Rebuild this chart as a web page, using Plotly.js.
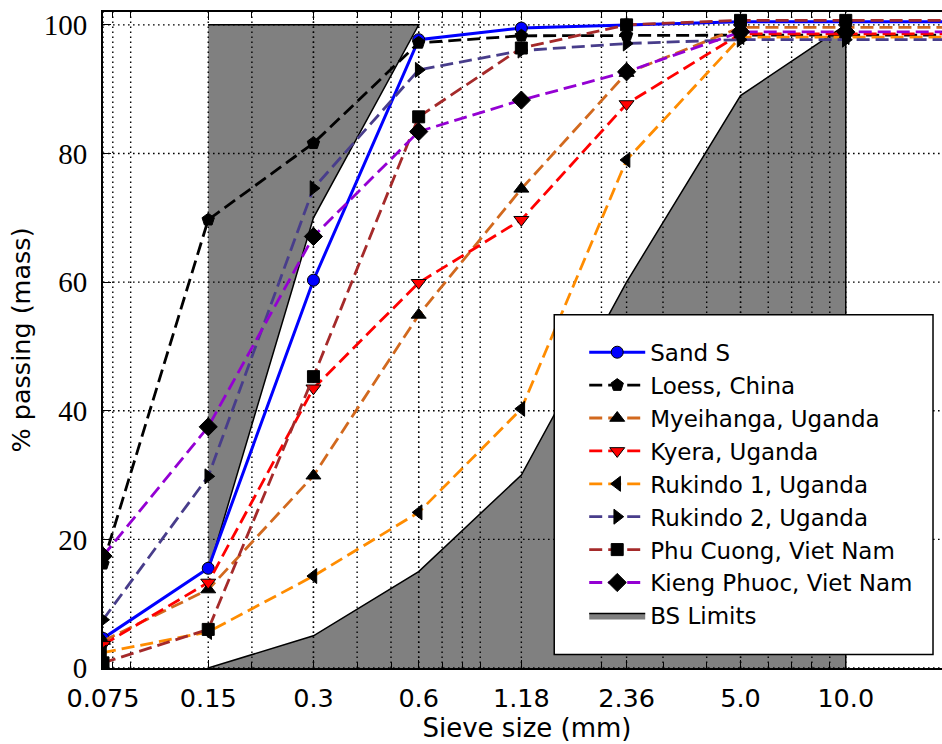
<!DOCTYPE html>
<html>
<head>
<meta charset="utf-8">
<script src="https://cdn.plot.ly/plotly-3.0.1.min.js"></script>
<style>
html,body{margin:0;padding:0;overflow:hidden;background:#fff;}
#chart{width:951px;height:744px;}
</style>
</head>
<body>
<div id="chart"></div>
<script>
// ---- data ----
var sieve = [0.075, 0.15, 0.3, 0.6, 1.18, 2.36, 5.0, 10.0, 20.0];
var sandS      = [4.6, 15.5, 60.3, 97.7, 99.5, 100.0, 100.5, 100.5, 100.5];
var loess      = [16.2, 69.7, 81.6, 97.2, 98.3, 98.4, 98.4, 98.4, 98.4];
var myeihanga  = [4.2, 12.2, 29.9, 54.9, 74.5, 92.5, 99.6, 99.6, 99.6];
var kyera      = [3.6, 13.3, 43.5, 59.9, 69.7, 87.7, 98.6, 98.6, 98.6];
var rukindo1   = [2.4, 5.6, 14.3, 24.2, 40.3, 79.0, 98.1, 98.1, 98.1];
var rukindo2   = [7.5, 29.8, 74.6, 93.0, 96.0, 97.1, 97.7, 97.7, 97.7];
var phuCuong   = [0.8, 6.0, 45.3, 85.7, 96.4, 100.0, 100.7, 100.7, 100.7];
var kiengPhuoc = [17.4, 37.5, 67.1, 83.4, 88.3, 92.7, 98.9, 98.9, 98.9];

var bsUpperX = [0.15, 0.3, 0.6];
var bsUpperY = [15, 70, 100];
var bsLowerX = [0.15, 0.3, 0.6, 1.18, 2.36, 5.0, 10.0];
var bsLowerY = [0, 5, 15, 30, 60, 89, 100];

var xTickVals = [0.075, 0.15, 0.3, 0.6, 1.18, 2.36, 5.0, 10.0];
var xTickText = ['0.075', '0.15', '0.3', '0.6', '1.18', '2.36', '5.0', '10.0'];
var yTickVals = [0, 20, 40, 60, 80, 100];

var xMin = 0.075, xMax = 20, yMin = 0, yMax = 102;

// minor log ticks (2..9 x 10^n) inside the range
var minorX = [];
for (var d = -2; d <= 1; d++) {
  for (var k = 2; k <= 9; k++) {
    var v = k * Math.pow(10, d);
    if (v > xMin && v < xMax) minorX.push(+v.toPrecision(3));
  }
}

// ---- traces ----
var traces = [];
// BS limits (gray area outside the limits)
traces.push({
  x: bsUpperX.concat([bsUpperX[0]]),
  y: bsUpperY.concat([100]),
  mode: 'lines', fill: 'toself', fillcolor: '#808080',
  line: {color: '#000', width: 1.5},
  name: 'BS Limits', legendgroup: 'bs', legendrank: 2000, hoverinfo: 'skip'
});
traces.push({
  x: bsLowerX.concat([bsLowerX[bsLowerX.length - 1]]),
  y: bsLowerY.concat([0]),
  mode: 'lines', fill: 'toself', fillcolor: '#808080',
  line: {color: '#000', width: 1.5},
  name: 'BS Limits', legendgroup: 'bs', showlegend: false, hoverinfo: 'skip'
});

// grid lines (above the patches, below the data lines)
var gx = [], gy = [];
xTickVals.concat(minorX).forEach(function (v) { gx.push(v, v, null); gy.push(yMin, yMax, null); });
yTickVals.forEach(function (v) { gx.push(xMin, xMax, null); gy.push(v, v, null); });
traces.push({
  x: gx, y: gy, mode: 'lines', showlegend: false, hoverinfo: 'skip',
  line: {color: '#000', width: 1.4, dash: '1.6px,3.4px'}
});

var dashPat = '13px,6px';
function series(name, y, color, symbol, mcolor, dash, size, rank) {
  return {
    x: sieve, y: y, name: name, mode: 'lines+markers', legendrank: rank,
    line: {color: color, width: dash ? 2.8 : 3, dash: dash ? dashPat : 'solid'},
    marker: {symbol: symbol, size: size, color: mcolor, line: {color: '#000', width: 1}}
  };
}
traces.push(series('Sand S', sandS, '#0000ff', 'circle', '#0000ff', false, 12, 1001));
traces.push(series('Loess, China', loess, '#000000', 'pentagon', '#000000', true, 13, 1002));
traces.push(series('Myeihanga, Uganda', myeihanga, '#d2691e', 'triangle-up', '#000000', true, 13, 1003));
traces.push(series('Kyera, Uganda', kyera, '#ff0000', 'triangle-down', '#ff0000', true, 13, 1004));
traces.push(series('Rukindo 1, Uganda', rukindo1, '#ff8c00', 'triangle-left', '#000000', true, 13, 1005));
traces.push(series('Rukindo 2, Uganda', rukindo2, '#483d8b', 'triangle-right', '#000000', true, 13, 1006));
traces.push(series('Phu Cuong, Viet Nam', phuCuong, '#a52a2a', 'square', '#000000', true, 12, 1007));
traces.push(series('Kieng Phuoc, Viet Nam', kiengPhuoc, '#9400d3', 'diamond', '#000000', true, 14, 1008));

// ---- layout ----
var L = 102.5, R = 951, T = 12, B = 668.5;
var pw = R - L, ph = B - T;
function px(xp) { return (xp - L) / pw; }
function py(yp) { return (B - yp) / ph; }

var layout = {
  width: 951, height: 744,
  margin: {l: L, r: 0, t: T, b: 744 - B, pad: 0},
  paper_bgcolor: '#fff', plot_bgcolor: '#fff',
  showlegend: true,
  xaxis: {
    type: 'log',
    range: [Math.log10(xMin), Math.log10(xMax)],
    tickmode: 'array', tickvals: xTickVals, ticktext: xTickText,
    ticks: 'inside', ticklen: 8, tickwidth: 1, tickcolor: '#000',
    minor: {tickmode: 'array', tickvals: minorX, ticks: 'inside', ticklen: 6, tickwidth: 1, tickcolor: '#000', showgrid: false},
    showgrid: false, zeroline: false,
    showline: true, linecolor: '#000', linewidth: 2, mirror: 'ticks',
    tickfont: {family: 'DejaVu Sans', size: 25.5, color: '#000'},
    ticklabelstandoff: 6,
    title: {text: 'Sieve size (mm)', font: {family: 'DejaVu Sans', size: 26, color: '#000'}, standoff: 2}
  },
  yaxis: {
    range: [yMin, yMax],
    tickmode: 'array', tickvals: yTickVals,
    ticks: 'inside', ticklen: 8, tickwidth: 1, tickcolor: '#000',
    showgrid: false, zeroline: false,
    showline: true, linecolor: '#000', linewidth: 2, mirror: 'ticks',
    tickfont: {family: '"Liberation Serif", "Times New Roman", "DejaVu Serif", serif', size: 29, color: '#000'},
    ticklabelstandoff: 8,
    title: {text: '% passing (mass)', font: {family: 'DejaVu Sans', size: 25.5, color: '#000'}, standoff: 6}
  },
  legend: {
    x: px(584), xanchor: 'left',
    y: py(331), yanchor: 'top',
    bgcolor: 'rgba(0,0,0,0)', borderwidth: 0,
    font: {family: 'DejaVu Sans', size: 23, color: '#000'},
    itemwidth: 56, tracegroupgap: 0
  },
  shapes: [{
    type: 'rect', xref: 'paper', yref: 'paper', layer: 'above',
    x0: px(554), x1: px(933), y0: py(655), y1: py(315),
    fillcolor: '#fff', line: {color: '#000', width: 1.5}
  }]
};

Plotly.newPlot('chart', traces, layout, {displayModeBar: false, staticPlot: true});
</script>
</body>
</html>
